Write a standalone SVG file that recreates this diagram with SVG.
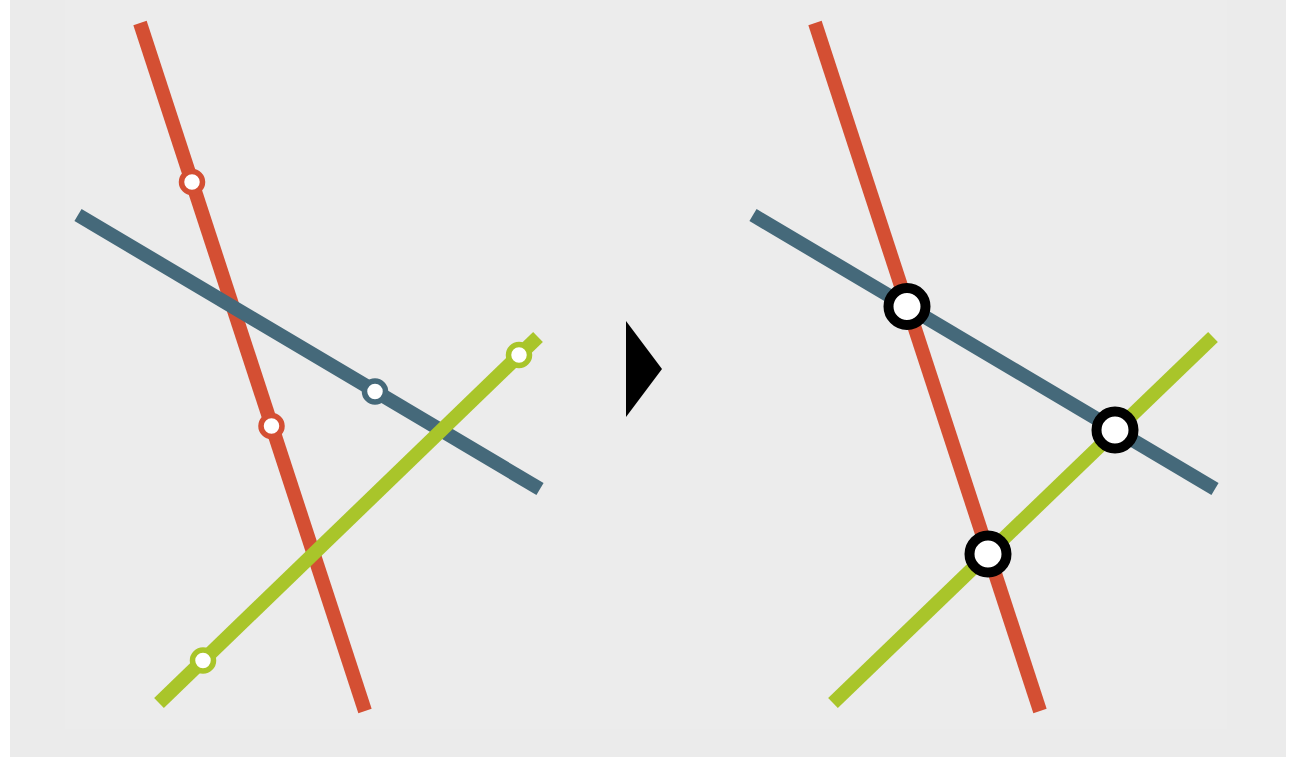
<svg xmlns="http://www.w3.org/2000/svg" width="1299" height="757" viewBox="0 0 1299 757">
<style>
.line{fill:none;stroke-width:14;stroke-linecap:butt}
.red{stroke:#d44f33}
.blue{stroke:#45697a}
.green{stroke:#a9c52a}
.stop{fill:#ffffff;stroke-width:5.5}
.xchg{fill:#ffffff;stroke:#000000;stroke-width:10}
</style>
<rect x="0" y="0" width="1299" height="757" fill="#ffffff"/>
<rect x="10" y="0" width="1276" height="757" fill="#ebebeb"/>
<rect x="65" y="0" width="1162" height="729" fill="#ececec"/>
<g id="connectors">
<line class="line red" x1="140" y1="23" x2="365" y2="711"/>
<line class="line blue" x1="78" y1="215" x2="540" y2="489"/>
<line class="line green" x1="159" y1="703" x2="538" y2="337"/>
<line class="line red" x1="815" y1="23" x2="1040" y2="711"/>
<line class="line blue" x1="753" y1="215" x2="1215" y2="489"/>
<line class="line green" x1="833" y1="703" x2="1213" y2="337"/>
</g>
<g id="stop-red-1"><circle class="stop red" cx="192" cy="182" r="10.5"/></g>
<g id="stop-red-2"><circle class="stop red" cx="271.5" cy="426" r="10.5"/></g>
<g id="stop-blue-1"><circle class="stop blue" cx="375" cy="391.5" r="10.5"/></g>
<g id="stop-green-1"><circle class="stop green" cx="519" cy="355" r="10.5"/></g>
<g id="stop-green-2"><circle class="stop green" cx="203" cy="660.5" r="10.5"/></g>
<g id="arrow"><polygon points="626,321 662,369 626,417" fill="#000000"/></g>
<g id="interchange-1"><circle class="xchg" cx="907" cy="306.5" r="18.5"/></g>
<g id="interchange-2"><circle class="xchg" cx="1115" cy="430" r="18.5"/></g>
<g id="interchange-3"><circle class="xchg" cx="988" cy="554" r="18.5"/></g>
</svg>
